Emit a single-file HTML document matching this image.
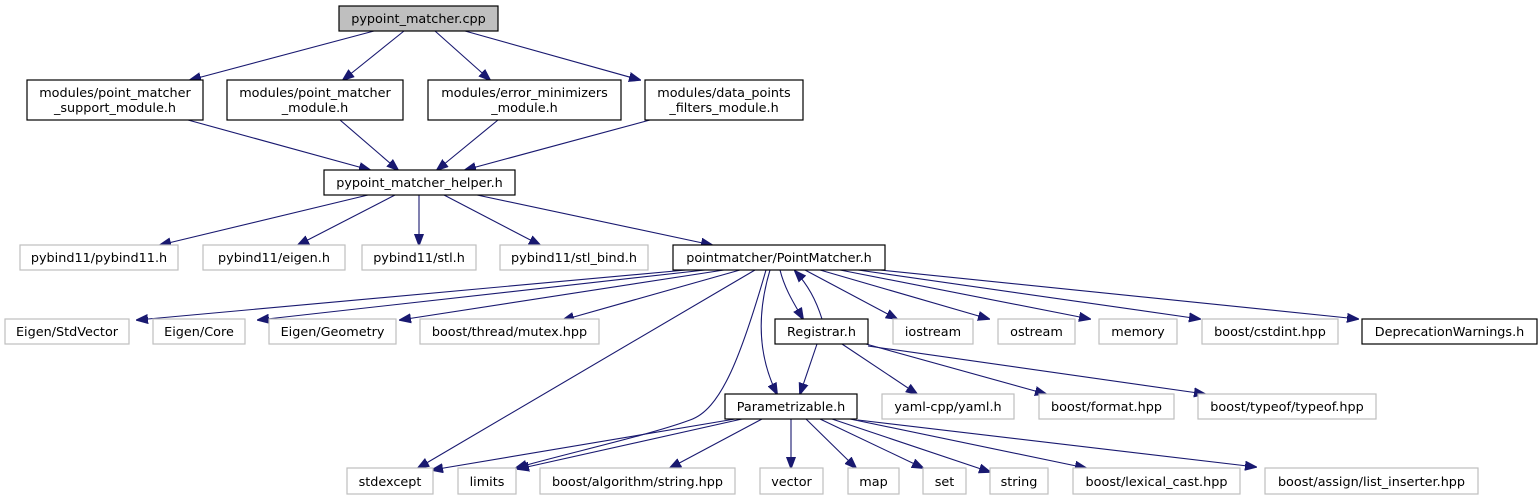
<!DOCTYPE html>
<html><head><meta charset="utf-8"><style>
html,body{margin:0;padding:0;background:#fff;width:1538px;height:500px;overflow:hidden}
svg text{font-family:"DejaVu Sans","Liberation Sans",sans-serif;font-size:12.8px;fill:#000;text-anchor:middle}
.b{fill:#fff;stroke:#000;stroke-width:1.2}
.g{fill:#fff;stroke:#bfbfbf;stroke-width:1.2}
.e{fill:none;stroke:#191970;stroke-width:1.1;marker-end:url(#a)}
</style></head><body>
<svg width="1538" height="500" viewBox="0 0 1538 500">
<defs><marker id="a" markerWidth="12" markerHeight="10" refX="11" refY="5" orient="auto" markerUnits="userSpaceOnUse"><path d="M0,0.5 L12,5 L0,9.5 z" fill="#191970" stroke="#191970"/></marker></defs>
<path class="e" d="M374,31 L190,80"/>
<path class="e" d="M404,31 L343,80"/>
<path class="e" d="M435,31 L490,80"/>
<path class="e" d="M465,31 L640,80"/>
<path class="e" d="M188,120 L370,170"/>
<path class="e" d="M340,120 L398,170"/>
<path class="e" d="M498,120 L437,170"/>
<path class="e" d="M650,120 L465,170"/>
<path class="e" d="M368,195 L160,245"/>
<path class="e" d="M395,195 L298,245"/>
<path class="e" d="M419,195 L419,245"/>
<path class="e" d="M444,195 L540,245"/>
<path class="e" d="M477,195 L712,245"/>
<path class="e" d="M686,270 L137,320"/>
<path class="e" d="M705,270 L258,320"/>
<path class="e" d="M724,270 L400,320"/>
<path class="e" d="M740,270 L563,320"/>
<path class="e" d="M755,270 L418,468"/>
<path class="e" d="M766,270 C740,360 720,410 690,420 C650,435 560,455 516,468"/>
<path class="e" d="M770,270 C755,320 760,360 777,394"/>
<path class="e" d="M780,270 C785,290 795,305 803,319"/>
<path class="e" d="M822,319 C816,300 808,285 795,271"/>
<path class="e" d="M805,270 L897,319"/>
<path class="e" d="M820,270 L989,319"/>
<path class="e" d="M840,270 L1090,319"/>
<path class="e" d="M858,270 L1200,319"/>
<path class="e" d="M880,270 L1358,319"/>
<path class="e" d="M817,344 L800,394"/>
<path class="e" d="M842,344 L917,394"/>
<path class="e" d="M866,344 L1046,394"/>
<path class="e" d="M868,346 L1205,394"/>
<path class="e" d="M735,419 L432,470"/>
<path class="e" d="M742,419 L518,469"/>
<path class="e" d="M762,419 L670,468"/>
<path class="e" d="M791,419 L791,468"/>
<path class="e" d="M806,419 L856,468"/>
<path class="e" d="M820,419 L923,468"/>
<path class="e" d="M832,419 L990,472"/>
<path class="e" d="M850,419 L1086,468"/>
<path class="e" d="M858,420 L1256,467"/>
<rect x="339" y="6" width="159" height="25" fill="#bfbfbf" stroke="#000" stroke-width="1.2"/><text x="418.5" y="23">pypoint_matcher.cpp</text>
<rect class="b" x="27" y="80" width="176" height="40"/><text x="115" y="97">modules/point_matcher</text><text x="115" y="112">_support_module.h</text>
<rect class="b" x="227" y="80" width="176" height="40"/><text x="315" y="97">modules/point_matcher</text><text x="315" y="112">_module.h</text>
<rect class="b" x="428" y="80" width="193" height="40"/><text x="524.5" y="97">modules/error_minimizers</text><text x="524.5" y="112">_module.h</text>
<rect class="b" x="645" y="80" width="158" height="40"/><text x="724" y="97">modules/data_points</text><text x="724" y="112">_filters_module.h</text>
<rect class="b" x="324" y="170" width="191" height="25"/><text x="419.5" y="187">pypoint_matcher_helper.h</text>
<rect class="g" x="20" y="245" width="158" height="25"/><text x="99" y="262">pybind11/pybind11.h</text>
<rect class="g" x="203" y="245" width="142" height="25"/><text x="274" y="262">pybind11/eigen.h</text>
<rect class="g" x="362" y="245" width="114" height="25"/><text x="419" y="262">pybind11/stl.h</text>
<rect class="g" x="500" y="245" width="148" height="25"/><text x="574" y="262">pybind11/stl_bind.h</text>
<rect class="b" x="673" y="245" width="212" height="25"/><text x="779" y="262">pointmatcher/PointMatcher.h</text>
<rect class="g" x="5" y="319" width="124" height="25"/><text x="67" y="336">Eigen/StdVector</text>
<rect class="g" x="153" y="319" width="92" height="25"/><text x="199" y="336">Eigen/Core</text>
<rect class="g" x="269" y="319" width="127" height="25"/><text x="332.5" y="336">Eigen/Geometry</text>
<rect class="g" x="420" y="319" width="179" height="25"/><text x="509.5" y="336">boost/thread/mutex.hpp</text>
<rect class="b" x="775" y="319" width="93" height="25"/><text x="821.5" y="336">Registrar.h</text>
<rect class="g" x="893" y="319" width="80" height="25"/><text x="933" y="336">iostream</text>
<rect class="g" x="998" y="319" width="77" height="25"/><text x="1036.5" y="336">ostream</text>
<rect class="g" x="1099" y="319" width="78" height="25"/><text x="1138" y="336">memory</text>
<rect class="g" x="1202" y="319" width="136" height="25"/><text x="1270" y="336">boost/cstdint.hpp</text>
<rect class="b" x="1362" y="319" width="175" height="25"/><text x="1449.5" y="336">DeprecationWarnings.h</text>
<rect class="b" x="725" y="394" width="132" height="25"/><text x="791" y="411">Parametrizable.h</text>
<rect class="g" x="882" y="394" width="132" height="25"/><text x="948" y="411">yaml-cpp/yaml.h</text>
<rect class="g" x="1039" y="394" width="135" height="25"/><text x="1106.5" y="411">boost/format.hpp</text>
<rect class="g" x="1198" y="394" width="178" height="25"/><text x="1287" y="411">boost/typeof/typeof.hpp</text>
<rect class="g" x="347" y="468" width="86" height="26"/><text x="390" y="486">stdexcept</text>
<rect class="g" x="458" y="468" width="58" height="26"/><text x="487" y="486">limits</text>
<rect class="g" x="540" y="468" width="195" height="26"/><text x="637.5" y="486">boost/algorithm/string.hpp</text>
<rect class="g" x="760" y="468" width="63" height="26"/><text x="791.5" y="486">vector</text>
<rect class="g" x="848" y="468" width="51" height="26"/><text x="873.5" y="486">map</text>
<rect class="g" x="923" y="468" width="43" height="26"/><text x="944.5" y="486">set</text>
<rect class="g" x="990" y="468" width="58" height="26"/><text x="1019" y="486">string</text>
<rect class="g" x="1073" y="468" width="167" height="26"/><text x="1156.5" y="486">boost/lexical_cast.hpp</text>
<rect class="g" x="1265" y="468" width="213" height="26"/><text x="1371.5" y="486">boost/assign/list_inserter.hpp</text>
</svg>
</body></html>
